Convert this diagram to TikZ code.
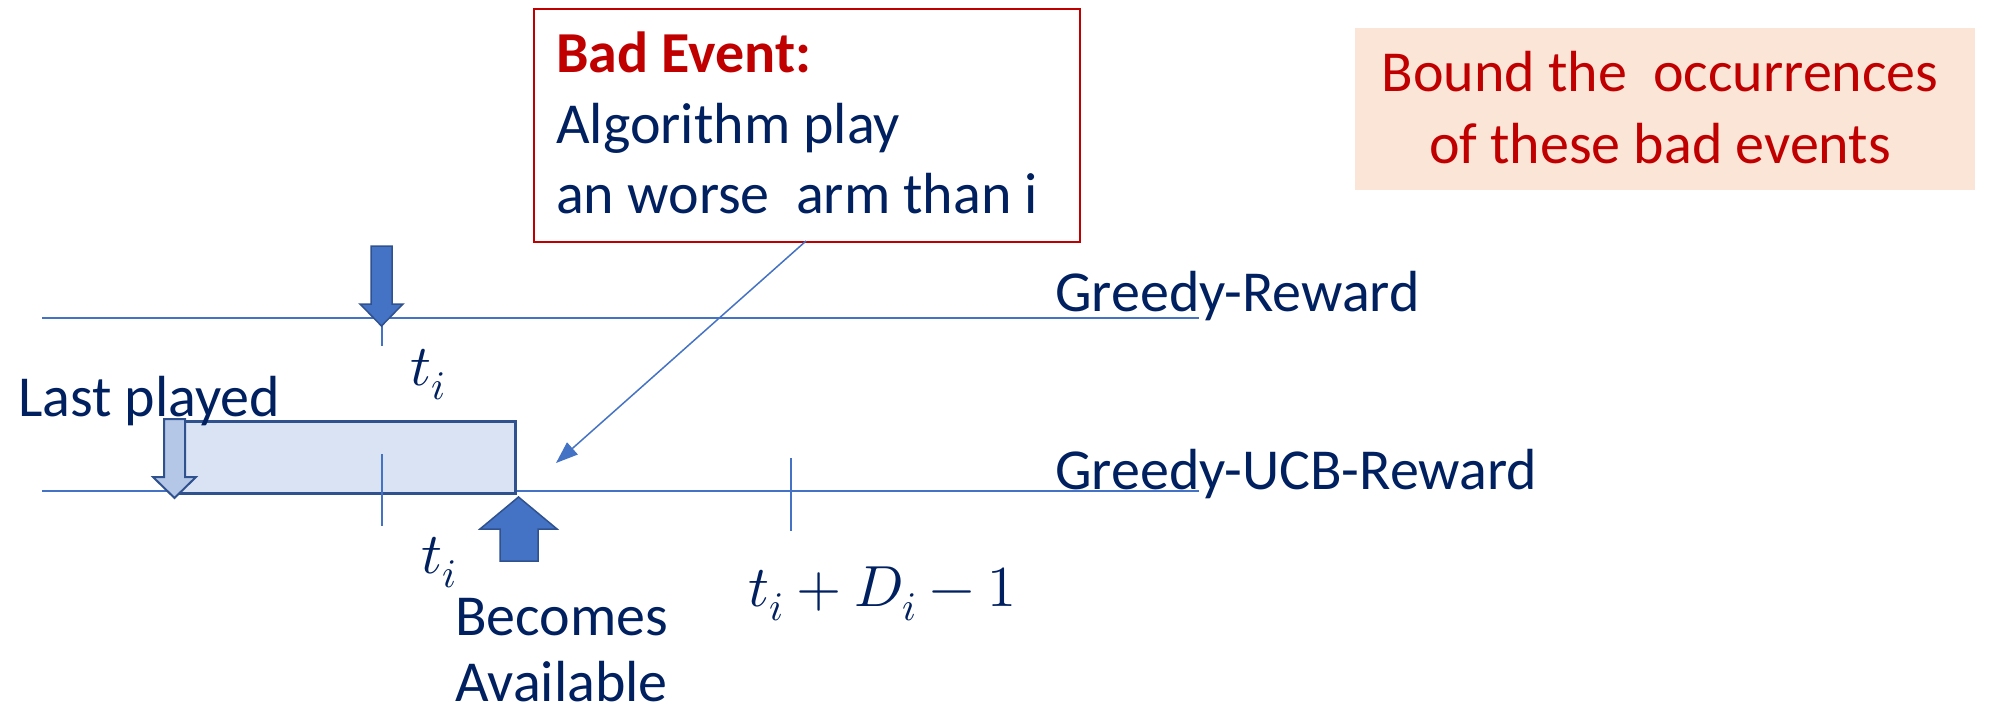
\documentclass[tikz,border=0pt]{standalone}
\usepackage{fontspec}
\usepackage{unicode-math}
\setmainfont{Carlito}
\setmathfont{Latin Modern Math}
\usetikzlibrary{arrows.meta}
\definecolor{lineblue}{HTML}{4472C4}
\definecolor{edgeblue}{HTML}{2F528F}
\definecolor{inkblue}{HTML}{002060}
\definecolor{alertred}{HTML}{C00000}
\definecolor{peach}{HTML}{FBE5D6}
\definecolor{windowfill}{HTML}{DAE3F3}
\definecolor{paleblue}{HTML}{B4C7E7}
\begin{document}
\begin{tikzpicture}[x=1pt,y=-1pt,
  txt/.style={inner sep=0pt, anchor=base west, text=inkblue,
    font=\fontsize{58}{70}\selectfont},
  redtxt/.style={inner sep=0pt, anchor=base, text=alertred,
    font=\fontsize{58}{70}\selectfont},
  axis/.style={draw=lineblue, line width=1.5pt},
  tick/.style={draw=lineblue, line width=1.2pt},
  blockarrow/.style={fill=lineblue, draw=edgeblue, line width=1.5pt, line join=miter},
  hollowarrow/.style={fill=paleblue, draw=edgeblue, line width=2pt, line join=miter},
  pointer/.style={draw=lineblue, line width=1.5pt, -{Triangle[length=22pt,width=16pt]}}]
\useasboundingbox (0,0) rectangle (1991,706);

% the two time lines
\coordinate (ga) at (42,318);
\coordinate (gb) at (1199,318);
\coordinate (ua) at (42,491);
\coordinate (ub) at (1199,491);
\draw[axis] (ga) -- (gb);
\draw[axis] (ua) -- (ub);

% delay window on the UCB line
\node[fill=windowfill, draw=edgeblue, line width=2.5pt, inner sep=0pt,
  minimum width=340pt, minimum height=72pt, anchor=north west] (window) at (174,420) {};

% ticks
\coordinate (t1a) at (382,318);
\coordinate (t1b) at (382,346);
\coordinate (t2a) at (382,454);
\coordinate (t2b) at (382,526);
\coordinate (t3a) at (791,458);
\coordinate (t3b) at (791,531);
\draw[tick] (t1a) -- (t1b);
\draw[tick] (t2a) -- (t2b);
\draw[tick] (t3a) -- (t3b);

% block arrow onto the Greedy-Reward line
\draw[blockarrow] (371,246) -- (392,246) -- (392,304) -- (403,304) -- (381.5,326)
  -- (360,304) -- (371,304) -- cycle;
% hollow arrow: last played
\draw[hollowarrow] (164,419) -- (185,419) -- (185,477) -- (196,477) -- (174.5,498)
  -- (153,477) -- (164,477) -- cycle;
% block arrow: becomes available
\draw[blockarrow] (500,561) -- (538,561) -- (538,529) -- (557,529) -- (518.5,497)
  -- (480,529) -- (500,529) -- cycle;

% labels
\node[txt] (greedy) at (1055,311) {Greedy-Reward};
\node[txt] (ucb) at (1055,489) {Greedy-UCB-Reward};
\node[txt] (last) at (18,416) {Last played};
\node[txt] (becomes) at (455,635) {Becomes};
\node[txt] (available) at (455,701) {Available};
\node[txt] (tiup) at (410,385) {$t_i$};
\node[txt] (tilow) at (421,573) {$t_i$};
\node[txt] (tiend) at (748,606) {$t_i+D_i-1$};

% bad event callout
\node[draw=alertred, line width=1.8pt, inner sep=0pt, minimum width=546pt,
  minimum height=233pt, anchor=north west] (bad) at (533,8) {};
\node[txt, text=alertred, font=\fontsize{58}{70}\selectfont\bfseries] (badtitle) at (556,73) {Bad Event:};
\node[txt] (badline1) at (556,143) {Algorithm play};
\node[txt] (badline2) at (556,213) {an worse\ \ arm than i};
\coordinate (badfoot) at (806,241);
\coordinate (gap) at (556,463);
\draw[pointer] (badfoot) -- (gap);

% bound box
\node[fill=peach, inner sep=0pt, minimum width=620pt, minimum height=162pt,
  anchor=north west] (bound) at (1355,28) {};
\node[redtxt] (boundline1) at (1660,92) {Bound the\ \ occurrences};
\node[redtxt] (boundline2) at (1660,163) {of these bad events};
\end{tikzpicture}
\end{document}
